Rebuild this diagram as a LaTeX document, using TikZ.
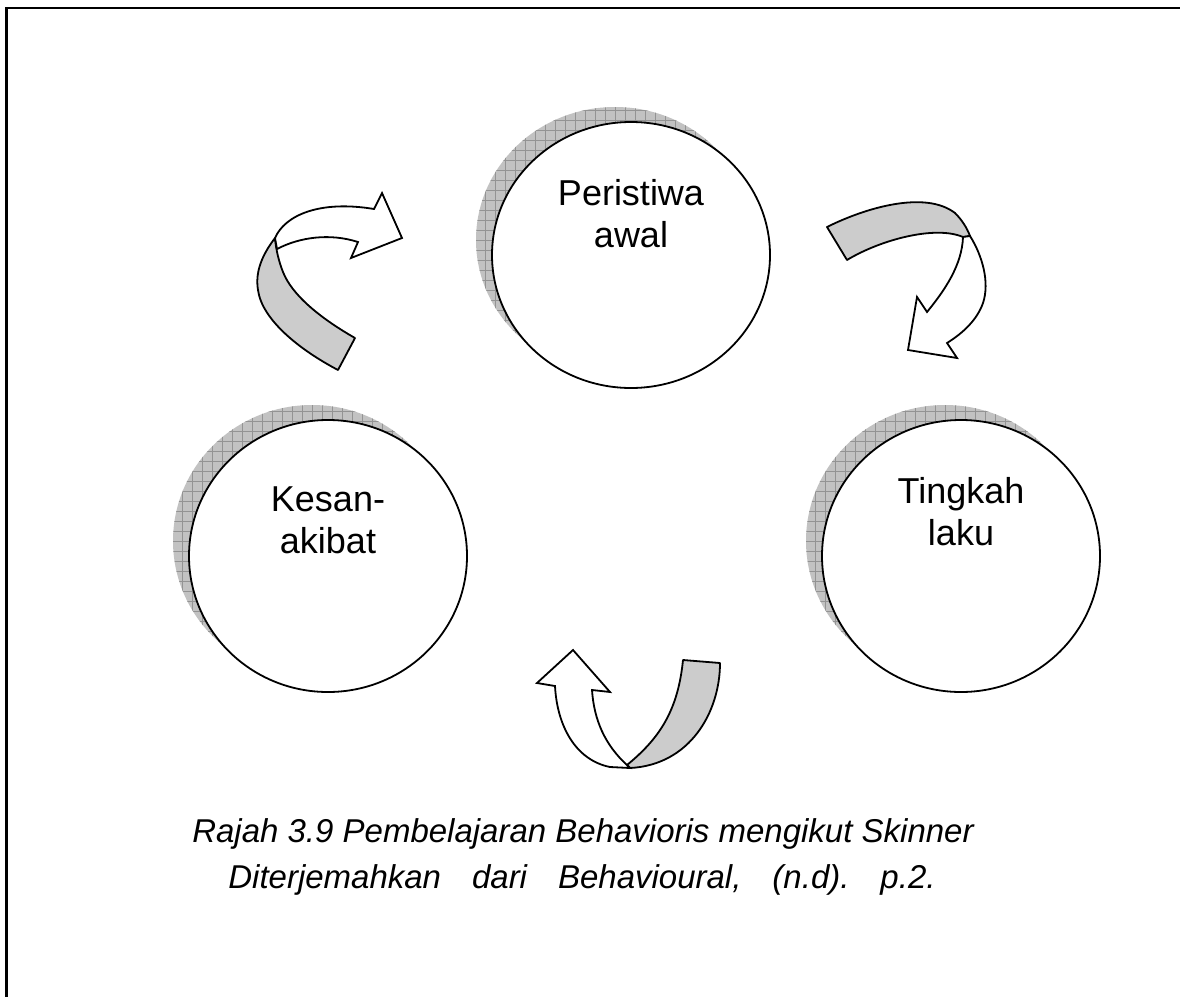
\documentclass[tikz,border=0pt]{standalone}
\usepackage{fontspec}
\setmainfont{Liberation Sans}
\usetikzlibrary{shapes.geometric}
\frenchspacing
\begin{document}
\begin{tikzpicture}[x=1pt,y=-1pt,
  bubble/.style={ellipse, draw=black, line width=1.8pt, fill=white, inner sep=0pt,
    minimum width=278pt, minimum height=#1},
  hatchshadow/.style={ellipse, inner sep=0pt, minimum width=278pt, minimum height=#1,
    path picture={
      \fill[gray!48] (path picture bounding box.south west) rectangle (path picture bounding box.north east);
      \draw[gray!85, line width=0.5pt, step=10pt] (path picture bounding box.south west) grid (path picture bounding box.north east);
    }},
  lbl/.style={font=\fontsize{36}{42}\selectfont, align=center, anchor=base, inner sep=0pt},
  captext/.style={font=\fontsize{33}{46}\selectfont\itshape, anchor=base, inner sep=0pt},
  ribback/.style={fill=gray!40, draw=black, line width=1.8pt, line join=round},
  ribfront/.style={fill=white, draw=black, line width=1.8pt, line join=miter},
  frameline/.style={draw=black, line width=2.5pt}]
\useasboundingbox (0,0) rectangle (1180,996);
% frame (only top and left edges visible)
\coordinate (fTL) at (6.3,7.8);
\coordinate (fTR) at (1185,7.8);
\coordinate (fBL) at (6.3,1001);
\draw[frameline] (fTR) -- (fTL) -- (fBL);

% shadows
\node[hatchshadow=266pt] (pershadow) at (615,240) {};
\node[hatchshadow=272pt] (kesshadow) at (312,541) {};
\node[hatchshadow=272pt] (tingshadow) at (945,541) {};

% ellipses
\node[bubble=266pt] (per) at (631,255) {};
\node[bubble=272pt] (kes) at (328,556) {};
\node[bubble=272pt] (ting) at (961,556) {};

% labels (base anchor = baseline of the last line)
\node[lbl] (perlab) at (631,247) {Peristiwa\\awal};
\node[lbl] (keslab) at (328,553) {Kesan-\\akibat};
\node[lbl] (tinglab) at (961,545) {Tingkah\\laku};

% top-left arrow (Kesan-akibat -> Peristiwa awal)
\draw[ribback] (275,238) .. controls (262,255) and (255,272) .. (258,290)
  .. controls (262,320) and (300,350) .. (338,370) -- (355,338)
  .. controls (320,318) and (292,295) .. (283,272)
  .. controls (279,262) and (276,250) .. (275,238) -- cycle;
\draw[ribfront] (275,238) .. controls (285,215) and (320,200) .. (374,209)
  -- (382,193) -- (402,238) -- (351,258) -- (358,242)
  .. controls (330,233) and (300,237) .. (277,249) -- cycle;

% right arrow (Peristiwa awal -> Tingkah laku)
\draw[ribback] (827,227) .. controls (865,208) and (925,190) .. (955,213)
  .. controls (962,220) and (967,228) .. (970,236) -- (963,237)
  .. controls (935,225) and (880,240) .. (847,260) -- cycle;
\draw[ribfront] (963,237) -- (970,236) .. controls (982,255) and (990,282) .. (983,303)
  .. controls (977,320) and (963,333) .. (947,343)
  -- (957,358) -- (908,350) -- (917,297) -- (927,312)
  .. controls (945,290) and (962,265) .. (963,237) -- cycle;

% bottom arrow (Tingkah laku -> Kesan-akibat)
\draw[ribback] (683,660) -- (720,663) .. controls (720,712) and (690,765) .. (630,768)
  -- (627,765) .. controls (660,738) and (678,710) .. (683,660) -- cycle;
\draw[ribfront] (592,690) -- (610,692) -- (573,650) -- (537,683) -- (555,686)
  .. controls (557,725) and (575,760) .. (610,767) -- (630,768) -- (627,765)
  .. controls (605,745) and (594,720) .. (592,690) -- cycle;

% caption
\node[captext] (cap1) at (583,842) {Rajah 3.9 Pembelajaran Behavioris mengikut Skinner};
\node[captext] (cap2) at (582,888) {\spaceskip=31pt\relax Diterjemahkan dari Behavioural, (n.d). p.2.};
\end{tikzpicture}
\end{document}
